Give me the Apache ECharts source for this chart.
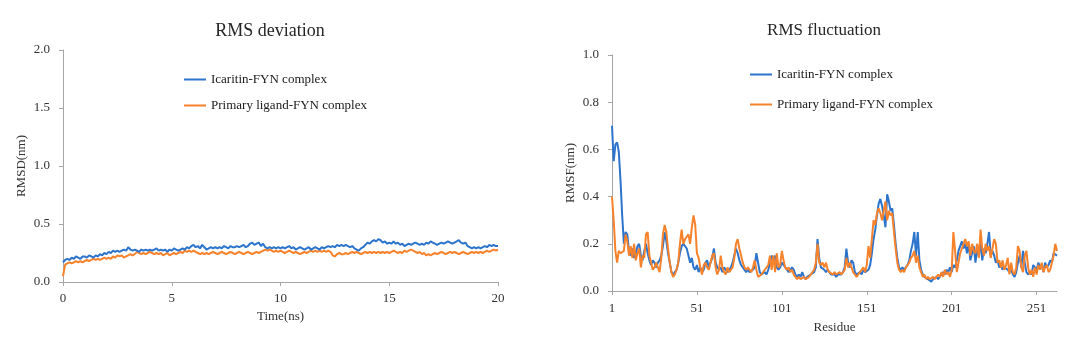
<!DOCTYPE html>
<html>
<head>
<meta charset="utf-8">
<script src="https://cdn.jsdelivr.net/npm/echarts@6/dist/echarts.min.js"></script>
<style>
html,body{margin:0;padding:0;background:#fff;}
#chart{width:1080px;height:339px;}
</style>
</head>
<body>
<div id="chart"></div>
<script>
// ---------- RMSD (left) : time 0..20 ns every 0.1 ns ----------
const seriesNames = ['Icaritin-FYN complex', 'Primary ligand-FYN complex'];
const rmsdIcaritin = [
0.17,0.19,0.20,0.19,0.21,0.20,0.22,0.21,0.20,0.22,
0.22,0.21,0.23,0.22,0.21,0.23,0.22,0.24,0.23,0.25,
0.24,0.26,0.25,0.27,0.26,0.27,0.26,0.27,0.28,0.27,
0.30,0.28,0.27,0.28,0.27,0.26,0.28,0.27,0.28,0.27,
0.28,0.27,0.28,0.29,0.27,0.28,0.27,0.28,0.26,0.28,
0.27,0.29,0.28,0.27,0.28,0.29,0.28,0.30,0.29,0.31,
0.32,0.30,0.31,0.29,0.32,0.30,0.28,0.29,0.30,0.29,
0.30,0.29,0.30,0.29,0.31,0.30,0.29,0.31,0.30,0.30,
0.31,0.30,0.31,0.32,0.30,0.31,0.33,0.34,0.32,0.33,
0.34,0.31,0.33,0.30,0.29,0.30,0.29,0.30,0.29,0.30,
0.29,0.30,0.29,0.30,0.31,0.29,0.30,0.28,0.29,0.30,
0.29,0.28,0.29,0.30,0.28,0.29,0.30,0.29,0.28,0.30,
0.29,0.30,0.31,0.30,0.31,0.30,0.32,0.31,0.32,0.31,
0.32,0.31,0.30,0.31,0.29,0.28,0.27,0.29,0.30,0.32,
0.34,0.33,0.35,0.36,0.35,0.37,0.36,0.34,0.35,0.33,
0.34,0.33,0.35,0.33,0.34,0.32,0.33,0.31,0.32,0.33,
0.32,0.33,0.34,0.33,0.32,0.33,0.32,0.34,0.33,0.35,
0.34,0.33,0.32,0.33,0.34,0.33,0.34,0.35,0.34,0.33,
0.34,0.35,0.36,0.34,0.33,0.34,0.31,0.30,0.29,0.30,
0.29,0.30,0.29,0.30,0.31,0.30,0.32,0.31,0.32,0.31,
0.31
];
const rmsdPrimary = [
0.05,0.15,0.16,0.17,0.16,0.17,0.18,0.17,0.18,0.17,
0.18,0.19,0.18,0.19,0.20,0.19,0.20,0.19,0.20,0.21,
0.20,0.21,0.20,0.22,0.21,0.23,0.22,0.23,0.21,0.22,
0.23,0.24,0.23,0.24,0.26,0.25,0.24,0.25,0.24,0.25,
0.26,0.25,0.24,0.25,0.24,0.25,0.23,0.24,0.25,0.23,
0.24,0.25,0.24,0.25,0.26,0.25,0.27,0.26,0.27,0.26,
0.27,0.26,0.25,0.24,0.25,0.24,0.25,0.24,0.25,0.26,
0.25,0.24,0.25,0.26,0.25,0.24,0.25,0.26,0.25,0.24,
0.25,0.26,0.25,0.24,0.25,0.26,0.25,0.24,0.25,0.26,
0.25,0.26,0.27,0.28,0.27,0.28,0.27,0.26,0.27,0.26,
0.27,0.26,0.25,0.26,0.27,0.26,0.25,0.26,0.25,0.24,
0.25,0.26,0.25,0.26,0.27,0.26,0.27,0.26,0.27,0.26,
0.27,0.26,0.27,0.26,0.23,0.22,0.24,0.25,0.24,0.24,
0.25,0.24,0.25,0.26,0.25,0.26,0.25,0.24,0.25,0.26,
0.25,0.26,0.25,0.26,0.25,0.26,0.25,0.26,0.25,0.26,
0.25,0.26,0.27,0.26,0.25,0.26,0.25,0.27,0.26,0.27,
0.28,0.27,0.26,0.25,0.26,0.24,0.25,0.23,0.24,0.23,
0.24,0.25,0.24,0.25,0.26,0.25,0.24,0.25,0.26,0.25,
0.26,0.25,0.24,0.25,0.26,0.25,0.24,0.25,0.26,0.25,
0.26,0.25,0.26,0.25,0.26,0.27,0.26,0.27,0.28,0.27,
0.28
];
const timeStep = 0.1; // ns between frames
const timeTicks = [0, 5, 10, 15, 20];

// ---------- RMSF (right) : residues 1..263 ----------
const rmsfIcaritin = [
0.70,0.55,0.62,0.63,0.59,0.47,0.32,0.20,0.25,0.24,
0.17,0.15,0.18,0.14,0.16,0.19,0.20,0.15,0.13,0.17,
0.20,0.16,0.13,0.11,0.13,0.12,0.10,0.12,0.13,0.15,
0.19,0.25,0.21,0.16,0.12,0.08,0.07,0.08,0.09,0.12,
0.16,0.19,0.20,0.20,0.18,0.15,0.12,0.14,0.10,0.09,
0.11,0.08,0.10,0.08,0.09,0.12,0.13,0.10,0.12,0.14,
0.18,0.12,0.10,0.09,0.10,0.08,0.10,0.09,0.08,0.09,
0.10,0.12,0.15,0.18,0.16,0.13,0.11,0.10,0.09,0.08,
0.09,0.08,0.08,0.09,0.10,0.16,0.12,0.08,0.07,0.07,
0.08,0.07,0.09,0.12,0.15,0.13,0.15,0.10,0.09,0.10,
0.12,0.11,0.10,0.09,0.08,0.08,0.10,0.09,0.07,0.06,
0.07,0.06,0.08,0.06,0.05,0.06,0.06,0.07,0.07,0.08,
0.10,0.22,0.14,0.10,0.10,0.09,0.08,0.09,0.08,0.07,
0.07,0.07,0.06,0.07,0.07,0.07,0.08,0.10,0.18,0.12,
0.10,0.13,0.12,0.08,0.07,0.07,0.08,0.07,0.09,0.08,
0.08,0.09,0.11,0.16,0.22,0.26,0.32,0.37,0.39,0.36,
0.32,0.27,0.41,0.38,0.34,0.35,0.28,0.20,0.14,0.10,
0.09,0.10,0.09,0.10,0.11,0.13,0.17,0.20,0.25,0.15,
0.25,0.13,0.09,0.07,0.06,0.06,0.05,0.05,0.04,0.05,
0.05,0.06,0.05,0.06,0.07,0.08,0.07,0.09,0.08,0.10,
0.08,0.11,0.10,0.13,0.17,0.19,0.21,0.18,0.20,0.16,
0.20,0.13,0.16,0.19,0.12,0.18,0.15,0.21,0.13,0.18,
0.16,0.20,0.25,0.15,0.17,0.15,0.12,0.13,0.10,0.11,
0.09,0.10,0.10,0.09,0.08,0.09,0.07,0.06,0.08,0.12,
0.15,0.10,0.17,0.12,0.08,0.07,0.08,0.07,0.11,0.10,
0.09,0.12,0.10,0.11,0.08,0.12,0.10,0.11,0.13,0.12,
0.16,0.16,0.15
];
const rmsfPrimary = [
0.40,0.30,0.17,0.12,0.17,0.16,0.16,0.17,0.24,0.21,
0.15,0.19,0.14,0.20,0.13,0.16,0.18,0.10,0.15,0.14,
0.24,0.25,0.15,0.12,0.09,0.10,0.12,0.10,0.08,0.14,
0.24,0.28,0.25,0.18,0.12,0.08,0.06,0.07,0.09,0.12,
0.20,0.26,0.20,0.22,0.23,0.24,0.20,0.27,0.32,0.28,
0.16,0.14,0.10,0.07,0.11,0.12,0.10,0.09,0.12,0.15,
0.16,0.10,0.07,0.09,0.15,0.10,0.08,0.07,0.10,0.08,
0.09,0.10,0.14,0.20,0.22,0.18,0.15,0.12,0.10,0.09,
0.10,0.09,0.08,0.10,0.13,0.09,0.06,0.06,0.07,0.08,
0.09,0.10,0.11,0.15,0.09,0.15,0.08,0.16,0.10,0.11,
0.17,0.13,0.10,0.09,0.10,0.08,0.09,0.07,0.06,0.05,
0.06,0.05,0.05,0.06,0.05,0.05,0.06,0.07,0.08,0.09,
0.12,0.20,0.12,0.11,0.12,0.10,0.12,0.09,0.08,0.08,
0.07,0.08,0.07,0.07,0.08,0.07,0.08,0.09,0.14,0.10,
0.12,0.10,0.08,0.07,0.06,0.07,0.08,0.09,0.10,0.08,
0.11,0.19,0.14,0.22,0.30,0.28,0.33,0.35,0.33,0.30,
0.34,0.38,0.30,0.34,0.32,0.33,0.25,0.18,0.12,0.09,
0.08,0.09,0.08,0.10,0.11,0.12,0.14,0.15,0.17,0.12,
0.15,0.10,0.08,0.06,0.07,0.05,0.06,0.05,0.05,0.06,
0.05,0.05,0.07,0.06,0.08,0.06,0.09,0.07,0.08,0.06,
0.09,0.25,0.17,0.08,0.12,0.16,0.18,0.20,0.22,0.19,
0.21,0.15,0.20,0.17,0.16,0.20,0.14,0.26,0.18,0.15,
0.20,0.17,0.19,0.14,0.18,0.22,0.20,0.12,0.13,0.10,
0.13,0.09,0.11,0.14,0.07,0.12,0.08,0.07,0.10,0.19,
0.17,0.10,0.08,0.15,0.17,0.10,0.07,0.09,0.06,0.10,
0.07,0.11,0.09,0.12,0.08,0.10,0.11,0.08,0.09,0.12,
0.15,0.20,0.17
];
const firstResidue = 1;
const residueTicks = [1, 51, 101, 151, 201, 251];

const colors = ['#2c74cc', '#f7822c'];

const withX = (arr, x0, dx) => arr.map((v, i) => [+(x0 + i * dx).toFixed(4), v]);

const serif = 'Liberation Serif, Times New Roman, serif';
const axisCommon = {
  axisLine: { show: true, lineStyle: { color: '#a6a6a6', width: 1 } },
  axisTick: { show: true, inside: false, length: 4, lineStyle: { color: '#a6a6a6' } },
  splitLine: { show: false },
  axisLabel: { fontFamily: serif, fontSize: 13, color: '#333' },
  nameTextStyle: { fontFamily: serif, fontSize: 13, color: '#333' }
};

const chart = echarts.init(document.getElementById('chart'), null, { renderer: 'canvas' });
chart.setOption({
  animation: false,
  backgroundColor: '#fff',
  title: [
    { text: 'RMS deviation', left: 265, top: 17, textAlign: 'center',
      textStyle: { fontFamily: serif, fontSize: 18, fontWeight: 'normal', color: '#262626' } },
    { text: 'RMS fluctuation', left: 819, top: 17, textAlign: 'center',
      textStyle: { fontFamily: serif, fontSize: 17, fontWeight: 'normal', color: '#262626' } }
  ],
  legend: [
    { orient: 'vertical', left: 179, top: 68, itemWidth: 22, itemHeight: 14, itemGap: 13,
      icon: 'path://M0,6 L22,6 L22,8 L0,8 Z',
      textStyle: { fontFamily: serif, fontSize: 13, color: '#1a1a1a' },
      data: seriesNames },
    { orient: 'vertical', left: 745, top: 63, itemWidth: 22, itemHeight: 14, itemGap: 17,
      icon: 'path://M0,6 L22,6 L22,8 L0,8 Z',
      textStyle: { fontFamily: serif, fontSize: 13, color: '#1a1a1a' },
      data: seriesNames }
  ],
  grid: [
    { left: 63, top: 50, width: 435, height: 232 },
    { left: 612, top: 55, width: 445, height: 238 }
  ],
  xAxis: [
    Object.assign({}, axisCommon, {
      gridIndex: 0, type: 'value', min: 0, max: 20, interval: 5,
      name: 'Time(ns)', nameLocation: 'middle', nameGap: 28,
      axisLabel: Object.assign({}, axisCommon.axisLabel, { margin: 10, customValues: timeTicks }),
      axisTick: Object.assign({}, axisCommon.axisTick, { customValues: timeTicks })
    }),
    Object.assign({}, axisCommon, {
      gridIndex: 1, type: 'value', min: 1, max: 263,
      name: 'Residue', nameLocation: 'middle', nameGap: 30,
      axisLabel: Object.assign({}, axisCommon.axisLabel, { margin: 11, customValues: residueTicks }),
      axisTick: Object.assign({}, axisCommon.axisTick, { customValues: residueTicks })
    })
  ],
  yAxis: [
    Object.assign({}, axisCommon, {
      gridIndex: 0, type: 'value', min: 0, max: 2, interval: 0.5,
      name: 'RMSD(nm)', nameLocation: 'middle', nameGap: 35, nameRotate: 90,
      axisLabel: Object.assign({}, axisCommon.axisLabel, { margin: 13, formatter: v => v.toFixed(1) })
    }),
    Object.assign({}, axisCommon, {
      gridIndex: 1, type: 'value', min: 0, max: 1, interval: 0.2,
      name: 'RMSF(nm)', nameLocation: 'middle', nameGap: 35, nameRotate: 90,
      axisLabel: Object.assign({}, axisCommon.axisLabel, { margin: 13, formatter: v => v.toFixed(1) })
    })
  ],
  series: [
    { name: seriesNames[0], type: 'line', xAxisIndex: 0, yAxisIndex: 0, showSymbol: false,
      data: withX(rmsdIcaritin, 0, timeStep), lineStyle: { color: colors[0], width: 2 }, itemStyle: { color: colors[0] }, z: 3 },
    { name: seriesNames[1], type: 'line', xAxisIndex: 0, yAxisIndex: 0, showSymbol: false,
      data: withX(rmsdPrimary, 0, timeStep), lineStyle: { color: colors[1], width: 2 }, itemStyle: { color: colors[1] }, z: 2 },
    { name: seriesNames[0], type: 'line', xAxisIndex: 1, yAxisIndex: 1, showSymbol: false,
      data: withX(rmsfIcaritin, firstResidue, 1), lineStyle: { color: colors[0], width: 2 }, itemStyle: { color: colors[0] }, z: 2 },
    { name: seriesNames[1], type: 'line', xAxisIndex: 1, yAxisIndex: 1, showSymbol: false,
      data: withX(rmsfPrimary, firstResidue, 1), lineStyle: { color: colors[1], width: 2 }, itemStyle: { color: colors[1] }, z: 3 }
  ]
});
</script>
</body>
</html>
